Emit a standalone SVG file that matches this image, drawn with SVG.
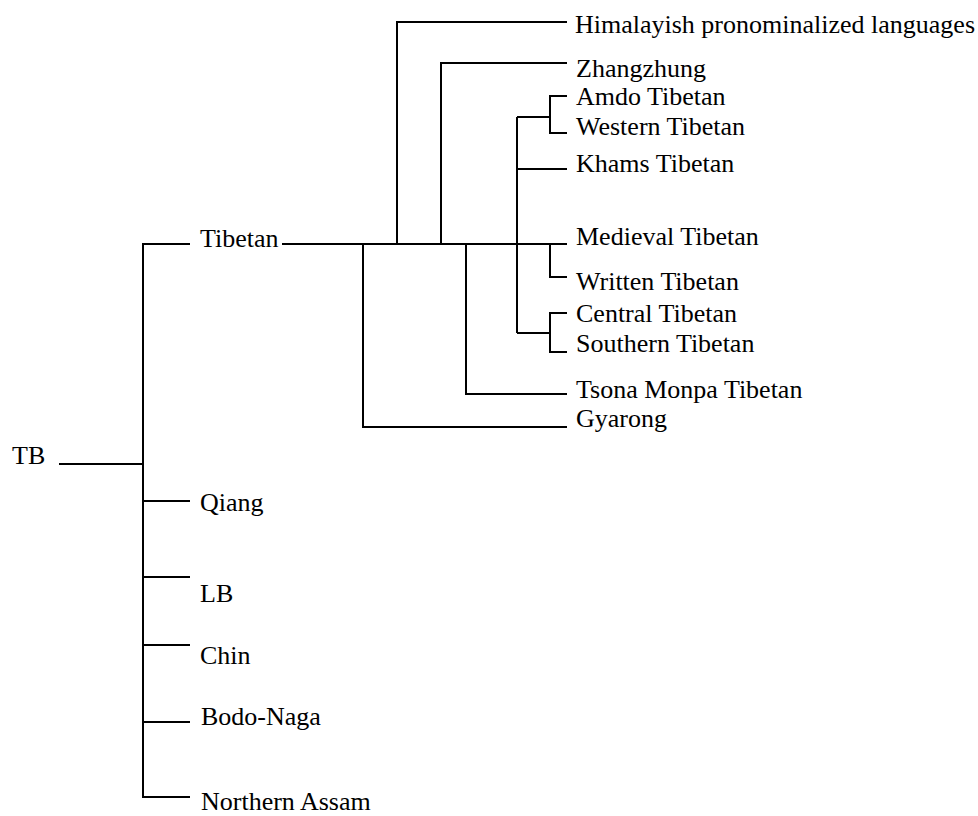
<svg xmlns="http://www.w3.org/2000/svg" width="978" height="816" viewBox="0 0 978 816">
<style>
.c{fill:none;stroke:#000;stroke-width:2}
text{font-family:"Liberation Serif","Times New Roman",serif;font-size:26px;fill:#000}
</style>
<rect width="978" height="816" fill="#fff"/>
<g id="connectors">
<path class="c" d="M59,464 H143"/>
<path class="c" d="M190,244 H143 V797 H190"/>
<path class="c" d="M143,501 H190"/>
<path class="c" d="M143,577 H190"/>
<path class="c" d="M143,645 H190"/>
<path class="c" d="M143,722 H190"/>
<path class="c" d="M282,244 H567"/>
<path class="c" d="M397,244 V22 H567"/>
<path class="c" d="M441,244 V63 H567"/>
<path class="c" d="M363,244 V427 H567"/>
<path class="c" d="M466,244 V394 H567"/>
<path class="c" d="M517,117 V333"/>
<path class="c" d="M517,117 H550"/>
<path class="c" d="M517,333 H550"/>
<path class="c" d="M517,169 H567"/>
<path class="c" d="M567,96 H550 V133 H567"/>
<path class="c" d="M550,244 V277 H567"/>
<path class="c" d="M567,313 H550 V352 H567"/>
</g>
<g id="n-tb"><text x="12" y="464">TB</text></g>
<g id="n-tibetan"><text x="200" y="247">Tibetan</text></g>
<g id="n-qiang"><text x="200" y="511">Qiang</text></g>
<g id="n-lb"><text x="200" y="602">LB</text></g>
<g id="n-chin"><text x="200" y="664">Chin</text></g>
<g id="n-bodo"><text x="201" y="725">Bodo-Naga</text></g>
<g id="n-northern-assam"><text x="201" y="810">Northern Assam</text></g>
<g id="n-himalayish"><text x="575" y="33">Himalayish pronominalized languages</text></g>
<g id="n-zhangzhung"><text x="576" y="77">Zhangzhung</text></g>
<g id="n-amdo"><text x="576" y="105">Amdo Tibetan</text></g>
<g id="n-western"><text x="576" y="135">Western Tibetan</text></g>
<g id="n-khams"><text x="576" y="172">Khams Tibetan</text></g>
<g id="n-medieval"><text x="576" y="245">Medieval Tibetan</text></g>
<g id="n-written"><text x="576" y="290">Written Tibetan</text></g>
<g id="n-central"><text x="576" y="322">Central Tibetan</text></g>
<g id="n-southern"><text x="576" y="352">Southern Tibetan</text></g>
<g id="n-tsona"><text x="576" y="398">Tsona Monpa Tibetan</text></g>
<g id="n-gyarong"><text x="576" y="427">Gyarong</text></g>
</svg>
